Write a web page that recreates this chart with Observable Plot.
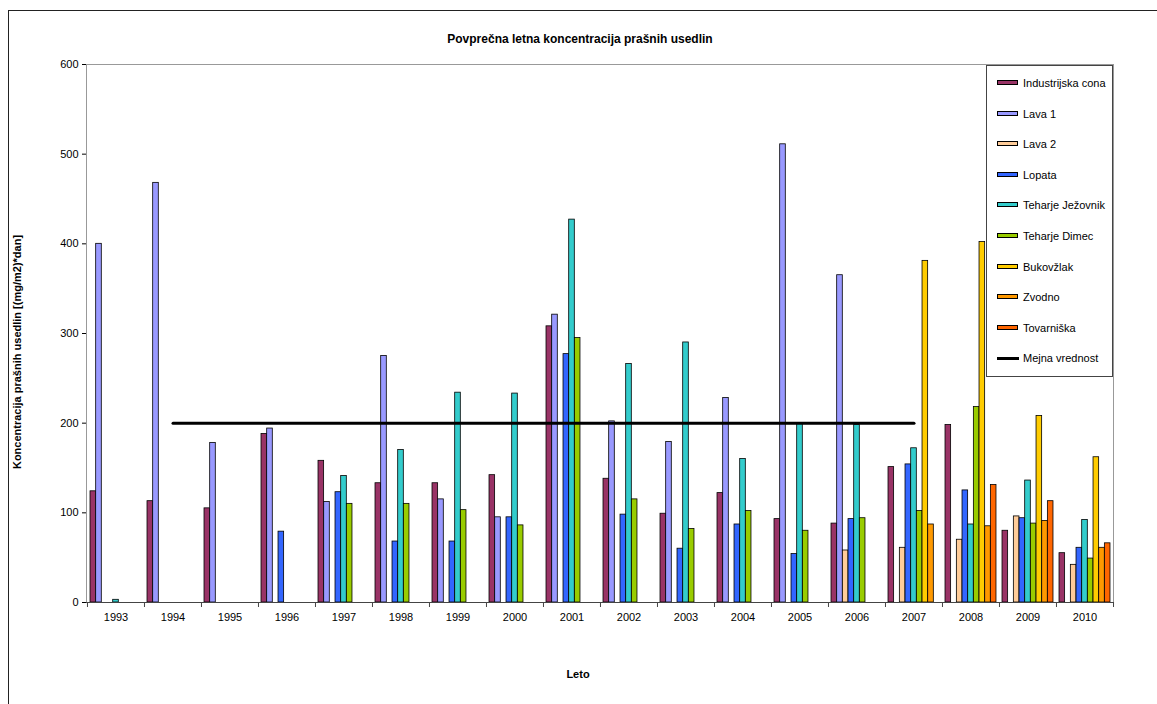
<!DOCTYPE html>
<html>
<head>
<meta charset="utf-8">
<script src="https://cdn.jsdelivr.net/npm/d3@7"></script>
<script src="https://cdn.jsdelivr.net/npm/@observablehq/plot@0.6"></script>
<style>
  html, body { margin: 0; padding: 0; background: #fff; overflow: hidden; }
  #chart { position: relative; width: 1157px; height: 704px; font-family: "Liberation Sans", Arial, sans-serif; color: #000; }
  #frame { position: absolute; left: 8px; top: 10px; width: 1200px; height: 760px; border: 1.5px solid #222; box-sizing: border-box; }
  #chart svg { position: absolute; left: 0; top: 0; }
  .title { position: absolute; top: 32px; left: 0; width: 1160px; text-align: center; font-size: 12px; font-weight: bold; }
  .xlabel { position: absolute; top: 668px; left: 478px; width: 200px; text-align: center; font-size: 11px; font-weight: bold; }
  .ylabel { position: absolute; left: 17px; top: 352px; transform: translate(-50%, -50%) rotate(-90deg); white-space: nowrap; font-size: 11px; font-weight: bold; }
  #legend { position: absolute; left: 986px; top: 65px; width: 127px; height: 312px; border: 1px solid #444; background: #fff; box-sizing: border-box; }
  .item { position: absolute; left: 10px; font-size: 11px; white-space: nowrap; line-height: 12px; }
  .sw { position: absolute; left: 0; top: 3px; width: 21px; height: 5px; border: 1px solid #000; box-sizing: border-box; }
  .swl { position: absolute; left: 0; top: 5px; width: 22px; height: 3px; background: #000; }
  .lt { position: absolute; left: 26px; top: 0; }
</style>
</head>
<body>
<div id="chart">
  <div id="frame"></div>
</div>
<script>
const years = ["1993","1994","1995","1996","1997","1998","1999","2000","2001","2002","2003","2004","2005","2006","2007","2008","2009","2010"];

const industrijska = [124,113,105,188,158,133,133,142,308,138,99,122,93,88,151,198,80,55];
const lava1 = [400,468,178,194,112,275,115,95,321,202,179,228,511,365,null,null,null,null];
const lava2 = [null,null,null,null,null,null,null,null,null,null,null,null,null,58,61,70,96,42];
const lopata = [null,null,null,79,123,68,68,95,277,98,60,87,54,93,154,125,94,61];
const teharjeJezovnik = [3,null,null,null,141,170,234,233,427,266,290,160,200,198,172,87,136,92];
const teharjeDimec = [null,null,null,null,110,110,103,86,295,115,82,102,80,94,102,218,88,49];
const bukovzlak = [null,null,null,null,null,null,null,null,null,null,null,null,null,null,381,402,208,162];
const zvodno = [null,null,null,null,null,null,null,null,null,null,null,null,null,null,87,85,91,61];
const tovarniska = [null,null,null,null,null,null,null,null,null,null,null,null,null,null,null,131,113,66];

const limitYears = ["1994","1995","1996","1997","1998","1999","2000","2001","2002","2003","2004","2005","2006","2007"];
const limitValue = 200;

const yTicks = [0,100,200,300,400,500,600];

const seriesNames = ["Industrijska cona","Lava 1","Lava 2","Lopata","Teharje Ježovnik","Teharje Dimec","Bukovžlak","Zvodno","Tovarniška"];
const seriesValues = [industrijska, lava1, lava2, lopata, teharjeJezovnik, teharjeDimec, bukovzlak, zvodno, tovarniska];
const seriesColors = ["#993366","#9999FF","#FFCC99","#3366FF","#33CCCC","#99CC00","#FFCC00","#FF9900","#FF6600"];
const limitName = "Mejna vrednost";

const W = 1157, H = 704;
const mL = 86, mR = 44, mT = 64, mB = 102;
const bw = (W - mL - mR) / years.length;
const n = seriesNames.length;
const barW = 5.67;
const gap = (bw - n * barW) / 2;

const rows = seriesNames.map((name, k) =>
  years.map((year, i) => ({year, name, value: seriesValues[k][i]})).filter(d => d.value != null)
);
const limitRows = limitYears.map(year => ({year, value: limitValue}));

const barMarks = rows.map((data, k) => Plot.barY(data, {
  x: "year", y: "value", fill: seriesColors[k], stroke: "#000", strokeWidth: 0.8,
  insetLeft: gap + k * barW, insetRight: gap + (n - 1 - k) * barW
}));

const chart = Plot.plot({
  width: W, height: H,
  marginLeft: mL, marginRight: mR, marginTop: mT, marginBottom: mB,
  style: {fontFamily: "Liberation Sans, Arial, sans-serif", fontSize: "11px", background: "transparent", color: "#000"},
  x: {domain: years, padding: 0},
  y: {domain: [0, 600], ticks: yTicks, tickSize: 4, tickPadding: 4, line: true, label: null},
  marks: [
    Plot.frame({stroke: "#999"}),
    ...barMarks,
    Plot.line(limitRows, {x: "year", y: "value", stroke: "#000", strokeWidth: 3}),
    Plot.ruleY([0], {stroke: "#444"}),
    Plot.axisX({tickSize: 0, tickPadding: 11, label: null, fontSize: 11}),
    Plot.axisX({tickSize: 5, tickFormat: () => "", dx: -bw / 2, label: null, stroke: "#444"}),
    Plot.axisX({ticks: [years[years.length - 1]], tickSize: 5, tickFormat: () => "", dx: bw / 2, label: null, stroke: "#444"})
  ]
});

const root = document.getElementById("chart");
root.appendChild(chart);

const title = document.createElement("div");
title.className = "title";
title.textContent = "Povprečna letna koncentracija prašnih usedlin";
root.appendChild(title);

const xl = document.createElement("div");
xl.className = "xlabel";
xl.textContent = "Leto";
root.appendChild(xl);

const yl = document.createElement("div");
yl.className = "ylabel";
yl.textContent = "Koncentracija prašnih usedlin [(mg/m2)*dan]";
root.appendChild(yl);

const legend = document.createElement("div");
legend.id = "legend";
const step = 30.6;
seriesNames.concat([limitName]).forEach((name, i) => {
  const it = document.createElement("div");
  it.className = "item";
  it.style.top = (11 + i * step) + "px";
  const sw = document.createElement("div");
  if (i < n) { sw.className = "sw"; sw.style.background = seriesColors[i]; }
  else { sw.className = "swl"; }
  const t = document.createElement("span");
  t.className = "lt";
  t.textContent = name;
  it.appendChild(sw);
  it.appendChild(t);
  legend.appendChild(it);
});
root.appendChild(legend);
</script>
</body>
</html>
